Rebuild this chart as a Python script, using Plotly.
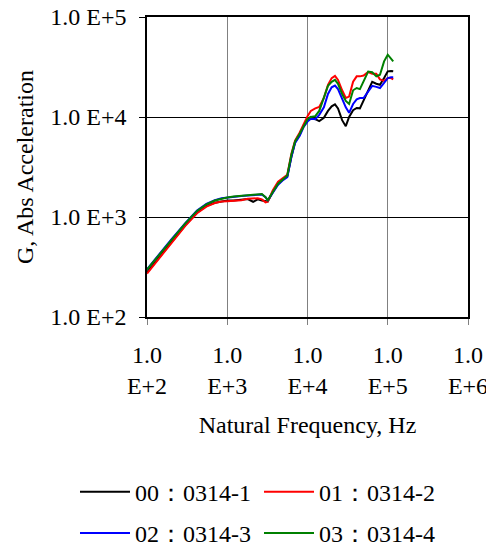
import plotly.graph_objects as go

freq_hz = [100, 150, 200, 300, 420, 550, 700, 850, 1000, 1200, 1500, 1800, 2100, 2400, 2700,
           3000, 3200, 3700, 4300, 5000, 5600, 6300, 7000, 8000,
           9000, 10000, 11000, 12500, 14000, 16000, 18000, 20000, 22000, 24000, 27000, 30000,
           33000, 37000, 41000, 45000, 50000, 57000, 64000, 72000, 80000, 90000, 100000, 110000, 117000]

g_0314_1 = [280, 420, 560, 830, 1110, 1290, 1390, 1440, 1460, 1460, 1480, 1510, 1420, 1500, 1460,
            1450, 1430, 1780, 2150, 2400, 2550, 4000, 5600, 6700,
            8300, 9400, 10000, 9500, 9100, 9800, 11500, 12800, 13400, 12200, 9300, 8100,
            10000, 11700, 12300, 12200, 14800, 18500, 22500, 21500, 21000, 24500, 28600, 28800, 28600]

g_0314_2 = [272, 410, 550, 815, 1090, 1270, 1380, 1430, 1440, 1450, 1470, 1520, 1530, 1540, 1500,
            1400, 1420, 1850, 2250, 2450, 2650, 4300, 5800, 7000,
            8600, 10200, 11500, 12200, 12600, 15500, 21000, 24500, 25800, 23500, 18500, 15500,
            16000, 22500, 25500, 25500, 26000, 28200, 27000, 27000, 23800, 23000, 24500, 24500, 23800]

g_0314_3 = [300, 450, 595, 870, 1160, 1350, 1470, 1540, 1570, 1590, 1620, 1640, 1660, 1670, 1680,
            1580, 1470, 1750, 2100, 2350, 2500, 4000, 5500, 6500,
            8000, 9000, 9600, 9500, 10500, 12500, 17000, 19800, 20600, 19000, 15000, 12500,
            11000, 13500, 15000, 15500, 15500, 18000, 20500, 20000, 19500, 22000, 24500, 25000, 25000]

g_0314_4 = [298, 445, 590, 865, 1150, 1340, 1460, 1530, 1570, 1600, 1630, 1660, 1680, 1700, 1700,
            1580, 1470, 1780, 2150, 2400, 2600, 4200, 5700, 6800,
            8200, 9500, 10000, 10200, 11500, 15500, 20500, 22500, 23500, 21500, 17000, 14500,
            13500, 18500, 19500, 19000, 23000, 28500, 28000, 25500, 26500, 36000, 42000, 38000, 36000]

series_names = ["00：0314-1", "01：0314-2", "02：0314-3", "03：0314-4"]
series_colors = ["#000000", "#FF0000", "#0000FF", "#008000"]
series_values = [g_0314_1, g_0314_2, g_0314_3, g_0314_4]
series_legend = ["legend", "legend", "legend2", "legend2"]

x_tickvals = [1e2, 1e3, 1e4, 1e5, 1e6]
x_ticktext = ["1.0<br>E+2", "1.0<br>E+3", "1.0<br>E+4", "1.0<br>E+5", "1.0<br>E+6"]
y_tickvals = [1e2, 1e3, 1e4, 1e5]
y_ticktext = ["1.0 E+2", "1.0 E+3", "1.0 E+4", "1.0 E+5"]

FONT = "Liberation Serif"
FS = 24

fig = go.Figure()
for name, color, vals, lg in zip(series_names, series_colors, series_values, series_legend):
    fig.add_trace(go.Scatter(x=freq_hz, y=vals, mode="lines", name=name,
                             line=dict(color=color, width=2), legend=lg))

legend_common = dict(orientation="h", x=-0.2243, xanchor="left", yanchor="top",
                     entrywidth=119, itemwidth=50, font=dict(family=FONT, size=FS),
                     bgcolor="rgba(0,0,0,0)")

# the page body has an 8px margin, so the figure is sized/offset to compensate
fig.update_layout(
    width=486, height=544,
    margin=dict(l=139, r=26, t=9, b=235, autoexpand=False),
    paper_bgcolor="white", plot_bgcolor="white",
    font=dict(family=FONT, size=FS, color="black"),
    showlegend=True,
    legend=dict(y=-0.509, **legend_common),
    legend2=dict(y=-0.646, **legend_common),
)
fig.update_xaxes(type="log", range=[2, 6], tickvals=x_tickvals, ticktext=x_ticktext,
                 showgrid=True, gridcolor="#808080", gridwidth=1,
                 showline=True, linecolor="black", linewidth=1.5, mirror=True,
                 ticks="outside", ticklen=6, tickcolor="#808080", ticklabelstandoff=9,
                 ticklabeloverflow="allow",
                 zeroline=False, automargin=False,
                 title=dict(text="Natural Frequency, Hz", font=dict(family=FONT, size=FS), standoff=18))
fig.update_yaxes(type="log", range=[2, 5], tickvals=y_tickvals, ticktext=y_ticktext,
                 showgrid=True, gridcolor="black", gridwidth=1,
                 showline=True, linecolor="black", linewidth=1.5, mirror=True,
                 ticks="outside", ticklen=6, tickcolor="black", ticklabelstandoff=8,
                 ticklabeloverflow="allow",
                 zeroline=False, automargin=False,
                 title=dict(text="G, Abs Acceleration", font=dict(family=FONT, size=FS), standoff=10))

fig.write_html("out.html")
